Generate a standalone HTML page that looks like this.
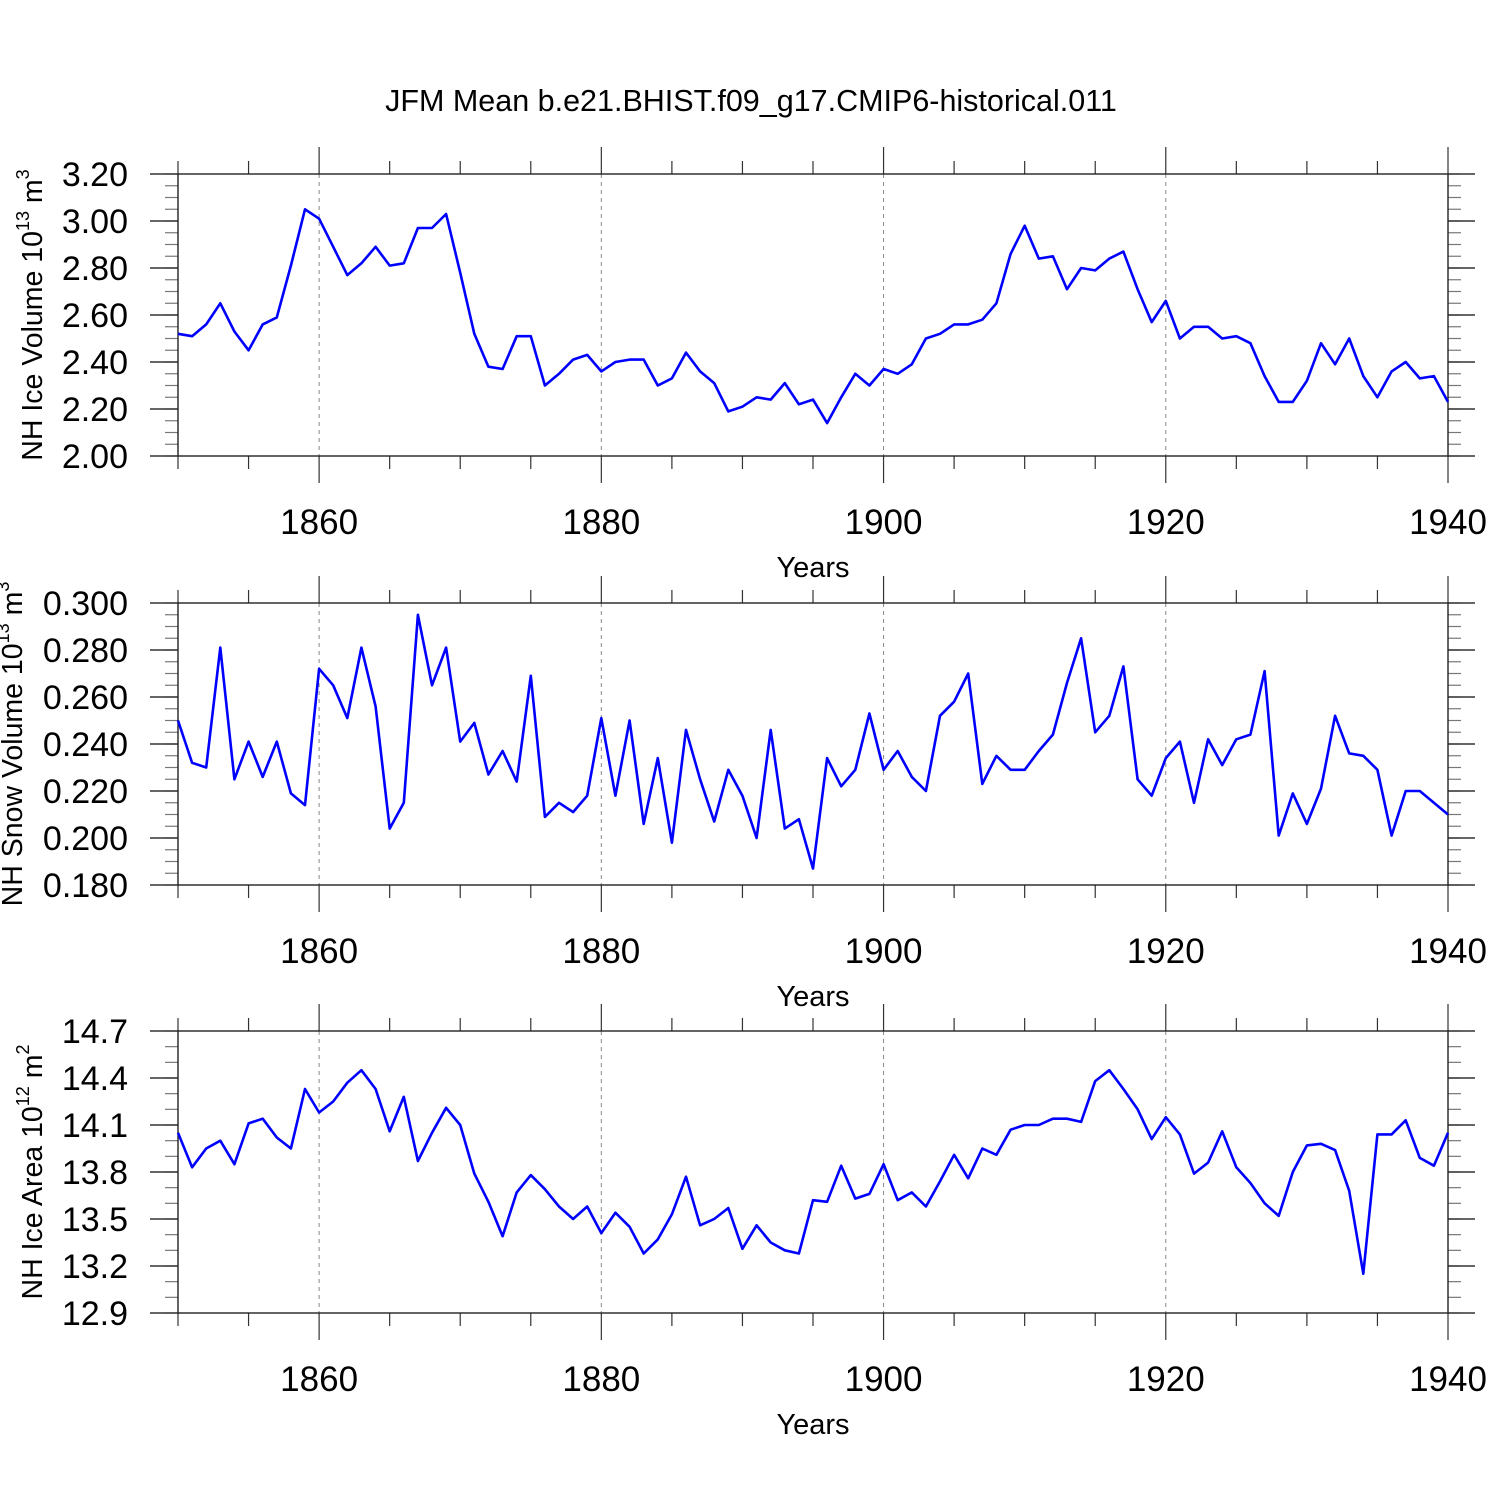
<!DOCTYPE html>
<html><head><meta charset="utf-8"><style>
html,body{margin:0;padding:0;background:#fff;}
svg{display:block;font-family:"Liberation Sans",sans-serif;}
</style></head><body>
<svg id="chart" width="1500" height="1500" viewBox="0 0 1500 1500">
<text x="751" y="111" font-size="30.5" text-anchor="middle">JFM Mean b.e21.BHIST.f09_g17.CMIP6-historical.011</text>
</svg>
<script>
const years = [];
for (let y = 1850; y <= 1940; y++) years.push(y);
const iceVolume = [2.52,2.51,2.56,2.65,2.53,2.45,2.56,2.59,2.81,3.05,3.01,2.89,2.77,2.82,2.89,2.81,2.82,2.97,2.97,3.03,2.78,2.52,2.38,2.37,2.51,2.51,2.30,2.35,2.41,2.43,2.36,2.40,2.41,2.41,2.30,2.33,2.44,2.36,2.31,2.19,2.21,2.25,2.24,2.31,2.22,2.24,2.14,2.25,2.35,2.30,2.37,2.35,2.39,2.50,2.52,2.56,2.56,2.58,2.65,2.86,2.98,2.84,2.85,2.71,2.80,2.79,2.84,2.87,2.71,2.57,2.66,2.50,2.55,2.55,2.50,2.51,2.48,2.34,2.23,2.23,2.32,2.48,2.39,2.50,2.34,2.25,2.36,2.40,2.33,2.34,2.23];
const snowVolume = [0.250,0.232,0.230,0.281,0.225,0.241,0.226,0.241,0.219,0.214,0.272,0.265,0.251,0.281,0.256,0.204,0.215,0.295,0.265,0.281,0.241,0.249,0.227,0.237,0.224,0.269,0.209,0.215,0.211,0.218,0.251,0.218,0.250,0.206,0.234,0.198,0.246,0.225,0.207,0.229,0.218,0.200,0.246,0.204,0.208,0.187,0.234,0.222,0.229,0.253,0.229,0.237,0.226,0.220,0.252,0.258,0.270,0.223,0.235,0.229,0.229,0.237,0.244,0.266,0.285,0.245,0.252,0.273,0.225,0.218,0.234,0.241,0.215,0.242,0.231,0.242,0.244,0.271,0.201,0.219,0.206,0.221,0.252,0.236,0.235,0.229,0.201,0.220,0.220,0.215,0.210];
const iceArea = [14.05,13.83,13.95,14.00,13.85,14.11,14.14,14.02,13.95,14.33,14.18,14.25,14.37,14.45,14.33,14.06,14.28,13.87,14.05,14.21,14.10,13.79,13.61,13.39,13.67,13.78,13.69,13.58,13.50,13.58,13.41,13.54,13.45,13.28,13.37,13.53,13.77,13.46,13.50,13.57,13.31,13.46,13.35,13.30,13.28,13.62,13.61,13.84,13.63,13.66,13.85,13.62,13.67,13.58,13.74,13.91,13.76,13.95,13.91,14.07,14.10,14.10,14.14,14.14,14.12,14.38,14.45,14.33,14.20,14.01,14.15,14.04,13.79,13.86,14.06,13.83,13.73,13.60,13.52,13.80,13.97,13.98,13.94,13.68,13.15,14.04,14.04,14.13,13.89,13.84,14.05];
const xTicks = [1860,1880,1900,1920,1940];
const volTicks = ["2.00","2.20","2.40","2.60","2.80","3.00","3.20"];
const snowTicks = ["0.180","0.200","0.220","0.240","0.260","0.280","0.300"];
const areaTicks = ["12.9","13.2","13.5","13.8","14.1","14.4","14.7"];

const NS = "http://www.w3.org/2000/svg";
const svg = document.getElementById('chart');
function mk(tag, attrs, parent, txt) {
  const e = document.createElementNS(NS, tag);
  for (const k in attrs) e.setAttribute(k, attrs[k]);
  if (txt !== undefined) e.textContent = txt;
  (parent || svg).appendChild(e);
  return e;
}
const X0 = 178, X1 = 1448, XMIN = 1850, XMAX = 1940;
function xs(v) { return X0 + (v - XMIN) / (XMAX - XMIN) * (X1 - X0); }

function panel(top, data, ticks, minorStep, titleParts, name, titleX) {
  const bot = top + 282;
  const ymin = parseFloat(ticks[0]), ymax = parseFloat(ticks[ticks.length - 1]);
  const ys = v => bot - (v - ymin) / (ymax - ymin) * (bot - top);
  const g = mk('g', {});
  
  
  xTicks.forEach(t => {
    if (t === XMAX) return;
    const l = mk('line', {x1: xs(t), x2: xs(t), y1: top, y2: bot, stroke: '#888', 'stroke-width': 1, 'stroke-dasharray': '4,4'}, g);
    
    
  });
  for (let t = XMIN; t <= XMAX; t += 5) {
    const major = xTicks.includes(t);
    const len = major ? 27 : 13;
    mk('line', {x1: xs(t), x2: xs(t), y1: top - len, y2: top, stroke: '#333', 'stroke-width': 1.2}, g);
    mk('line', {x1: xs(t), x2: xs(t), y1: bot, y2: bot + len, stroke: '#333', 'stroke-width': 1.2}, g);
  }
  for (let v = ymin; v <= ymax + 1e-9; v += minorStep) {
    const yy = ys(v);
    mk('line', {x1: X0 - 13, x2: X0, y1: yy, y2: yy, stroke: '#777', 'stroke-width': 1.2}, g);
    mk('line', {x1: X1, x2: X1 + 13, y1: yy, y2: yy, stroke: '#777', 'stroke-width': 1.2}, g);
  }
  ticks.forEach(t => {
    const yy = ys(parseFloat(t));
    mk('line', {x1: X0 - 28, x2: X0, y1: yy, y2: yy, stroke: '#333', 'stroke-width': 1.4}, g);
    mk('line', {x1: X1, x2: X1 + 27, y1: yy, y2: yy, stroke: '#333', 'stroke-width': 1.4}, g);
    const lb = mk('text', {x: 128, y: yy + 12, 'font-size': 34, 'text-anchor': 'end'}, g, t);
    
    
  });
  mk('rect', {x: X0, y: top, width: X1 - X0, height: bot - top, fill: 'none', stroke: '#222', 'stroke-width': 1.4}, g);
  xTicks.forEach(t => {
    const lb = mk('text', {x: xs(t), y: bot + 78, 'font-size': 35, 'text-anchor': 'middle'}, g, String(t));
    
    
  });
  const xt = mk('text', {x: 813, y: bot + 121, 'font-size': 29, 'text-anchor': 'middle'}, g, 'Years');
  
  
  const yt = mk('text', {transform: 'translate(' + titleX + ',' + (top + 141) + ') rotate(-90)', 'font-size': 28.5, 'text-anchor': 'middle'}, g);
  
  
  mk('tspan', {}, yt, titleParts[0]);
  mk('tspan', {dy: -13, 'font-size': 18}, yt, titleParts[1]);
  mk('tspan', {dy: 13}, yt, titleParts[2]);
  mk('tspan', {dy: -13, 'font-size': 18}, yt, titleParts[3]);
  const pts = data.map((v, i) => xs(years[i]).toFixed(1) + ',' + ys(v).toFixed(1)).join(' ');
  const pl = mk('polyline', {points: pts, fill: 'none', stroke: '#0000ff', 'stroke-width': 2.6, 'stroke-linejoin': 'round'}, g);
  
  
}
panel(174, iceVolume, volTicks, 0.05, ['NH Ice Volume 10', '13', ' m', '3'], 'ice-volume', 42);
panel(603, snowVolume, snowTicks, 0.005, ['NH Snow Volume 10', '13', ' m', '3'], 'snow-volume', 22);
panel(1031, iceArea, areaTicks, 0.1, ['NH Ice Area 10', '12', ' m', '2'], 'ice-area', 42);
</script>
</body></html>
